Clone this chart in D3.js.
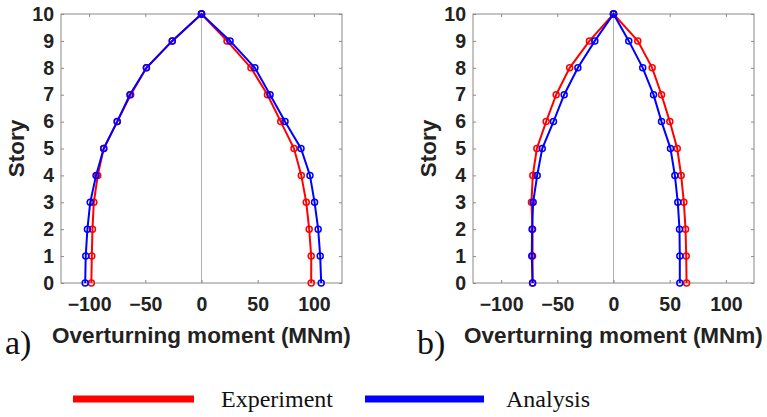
<!DOCTYPE html>
<html>
<head>
<meta charset="utf-8">
<script src="https://cdn.jsdelivr.net/npm/d3@7"></script>
<style>
  html, body { margin: 0; padding: 0; background: #fff; }
  svg { display: block; }
</style>
</head>
<body>
<svg id="chart" width="767" height="417"></svg>
<script>
// Story levels (floor 0 = base, 10 = roof)
const stories = [0, 1, 2, 3, 4, 5, 6, 7, 8, 9, 10];

// Panel a) overturning moment envelopes (MNm), per story
const aExperimentNeg = [-98, -97.6, -97, -95.8, -92.3, -87, -75, -63, -49, -26, 0];
const aExperimentPos = [97.6, 97.6, 95.8, 93.2, 88.8, 82.3, 70.5, 58.7, 44, 22.7, 0];
const aAnalysisNeg   = [-103.5, -103, -101.5, -99, -93.8, -87, -75, -63.7, -49, -26, 0];
const aAnalysisPos   = [106.5, 105.6, 103.8, 100.6, 96.5, 88.5, 74.3, 61, 47.5, 25.4, 0];

// Panel b) overturning moment envelopes (MNm), per story
const bExperimentNeg = [-72, -72, -72, -73, -71.8, -68.2, -59.9, -51, -39, -21.4, 0];
const bExperimentPos = [65, 64.7, 64.1, 62.6, 60.2, 56.7, 50.1, 42.7, 34.4, 21.6, 0];
const bAnalysisNeg   = [-72, -72.7, -72.4, -71.5, -67.9, -63.4, -53.4, -43.9, -31.7, -16.6, 0];
const bAnalysisPos   = [59, 59, 58.7, 57.2, 54.6, 50.7, 42.7, 35.6, 26, 13.6, 0];

const xTicks = [-100, -50, 0, 50, 100];
const yTicks = stories;
const xDomain = [-125, 125];
const yDomain = [0, 10];

const seriesNames = ["Experiment", "Analysis"];
const seriesColors = ["#ff0000", "#0000ff"];
const panelLabels = ["a)", "b)"];

const svg = d3.select("#chart");
const sansFont = "Arial, 'Liberation Sans', Helvetica, sans-serif";
const serifFont = "'Times New Roman', 'Liberation Serif', Times, serif";

const panels = [
  { left: 61, right: 342, label: panelLabels[0],
    series: [[aExperimentNeg, aExperimentPos], [aAnalysisNeg, aAnalysisPos]] },
  { left: 473, right: 754, label: panelLabels[1],
    series: [[bExperimentNeg, bExperimentPos], [bAnalysisNeg, bAnalysisPos]] }
];
const plotTop = 14, plotBottom = 283;

panels.forEach(p => {
  const x = d3.scaleLinear().domain(xDomain).range([p.left, p.right]);
  const y = d3.scaleLinear().domain(yDomain).range([plotBottom, plotTop]);
  const g = svg.append("g");

  // zero reference line
  g.append("line")
    .attr("x1", x(0)).attr("x2", x(0))
    .attr("y1", y(10)).attr("y2", y(0))
    .attr("stroke", "#b0b0b0").attr("stroke-width", 1);

  // axes with inward ticks
  const ax = [
    { axis: d3.axisBottom(x).tickValues(xTicks), tr: `translate(0,${plotBottom})` },
    { axis: d3.axisTop(x).tickValues(xTicks).tickFormat(""), tr: `translate(0,${plotTop})` },
    { axis: d3.axisLeft(y).tickValues(yTicks), tr: `translate(${p.left},0)` },
    { axis: d3.axisRight(y).tickValues(yTicks).tickFormat(""), tr: `translate(${p.right},0)` }
  ];
  ax.forEach((a, i) => {
    const ag = g.append("g").attr("transform", a.tr)
      .call(a.axis.tickSizeInner(-3).tickSizeOuter(0).tickPadding(i === 0 ? 14 : 7));
    ag.select(".domain").remove();
    ag.selectAll(".tick line").attr("stroke", "#8a8a8a").attr("stroke-width", 1);
    ag.selectAll(".tick text")
      .attr("font-family", sansFont)
      .attr("font-weight", "bold")
      .attr("font-size", "19.5px")
      .attr("fill", "#222");
  });

  // frame
  g.append("rect")
    .attr("x", p.left).attr("y", plotTop)
    .attr("width", p.right - p.left).attr("height", plotBottom - plotTop)
    .attr("fill", "none").attr("stroke", "#8a8a8a").attr("stroke-width", 1);

  // series: negative branch up to roof, positive branch back down
  const line = d3.line().x(d => x(d[0])).y(d => y(d[1]));
  p.series.forEach((s, si) => {
    const neg = s[0].map((v, i) => [v, stories[i]]);
    const pos = s[1].map((v, i) => [v, stories[i]]);
    const path = neg.concat(pos.slice(0, -1).reverse());
    g.append("path")
      .datum(path)
      .attr("d", line)
      .attr("fill", "none")
      .attr("stroke", seriesColors[si])
      .attr("stroke-width", 2);
    g.selectAll(null)
      .data(neg.concat(pos))
      .enter().append("circle")
      .attr("cx", d => x(d[0]))
      .attr("cy", d => y(d[1]))
      .attr("r", 3)
      .attr("fill", "none")
      .attr("stroke", seriesColors[si])
      .attr("stroke-width", 1.5);
  });

  // axis titles
  const cx = (p.left + p.right) / 2;
  g.append("text")
    .attr("x", cx).attr("y", 343)
    .attr("text-anchor", "middle")
    .attr("font-family", sansFont).attr("font-weight", "bold")
    .attr("font-size", "22.5px").attr("fill", "#222")
    .text("Overturning moment (MNm)");
  g.append("text")
    .attr("transform", `translate(${p.left - 37},${(plotTop + plotBottom) / 2}) rotate(-90)`)
    .attr("text-anchor", "middle")
    .attr("font-family", sansFont).attr("font-weight", "bold")
    .attr("font-size", "22.5px").attr("fill", "#222")
    .text("Story");

  // panel label
  g.append("text")
    .attr("x", p.left - 56).attr("y", 354)
    .attr("font-family", serifFont)
    .attr("font-size", "34px").attr("fill", "#111")
    .text(p.label);
});

// legend
const legendItems = [
  { x1: 73, x2: 194, tx: 221 },
  { x1: 365, x2: 484, tx: 506 }
];
legendItems.forEach((it, i) => {
  svg.append("line")
    .attr("x1", it.x1).attr("x2", it.x2)
    .attr("y1", 399).attr("y2", 399)
    .attr("stroke", seriesColors[i]).attr("stroke-width", 7);
  svg.append("text")
    .attr("x", it.tx).attr("y", 407)
    .attr("font-family", serifFont)
    .attr("font-size", "24px").attr("fill", "#111")
    .text(seriesNames[i]);
});
</script>
</body>
</html>
